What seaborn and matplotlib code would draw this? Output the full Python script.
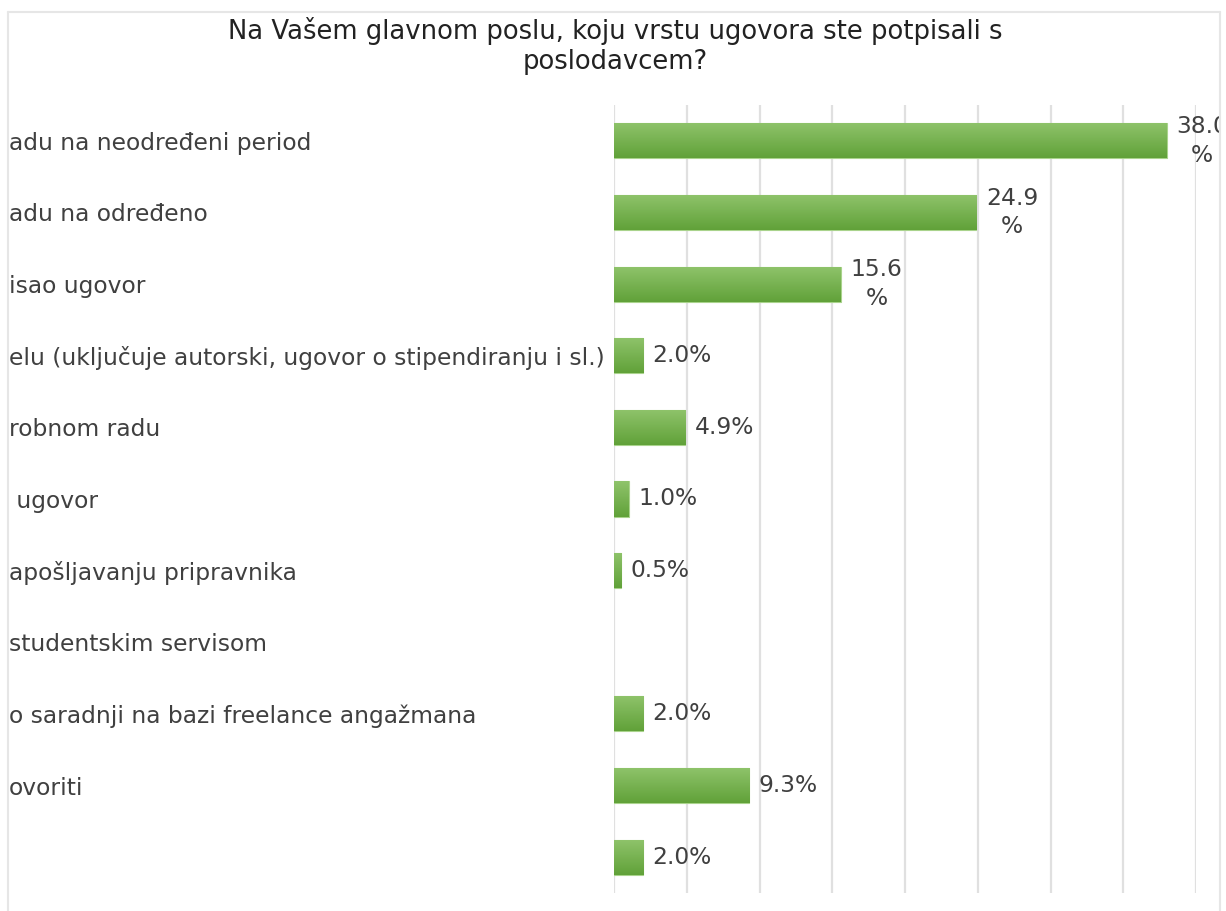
import matplotlib
matplotlib.use("Agg")
import matplotlib.pyplot as plt
import matplotlib.patches as mpatches
import matplotlib.lines as mlines
import numpy as np
import pandas as pd
import seaborn as sns

title = "Na Vašem glavnom poslu, koju vrstu ugovora ste potpisali s\nposlodavcem?"
categories = [
    "adu na neodređeni period",
    "adu na određeno",
    "isao ugovor",
    "elu (uključuje autorski, ugovor o stipendiranju i sl.)",
    "robnom radu",
    " ugovor",
    "apošljavanju pripravnika",
    "studentskim servisom",
    "o saradnji na bazi freelance angažmana",
    "ovoriti",
    " ",
]
values = [38.0, 24.9, 15.6, 2.0, 4.9, 1.0, 0.5, 0.0, 2.0, 9.3, 2.0]
value_labels = ["38.0\n%", "24.9\n%", "15.6\n%", "2.0%", "4.9%", "1.0%", "0.5%", "", "2.0%", "9.3%", "2.0%"]
x_ticks = [0, 5, 10, 15, 20, 25, 30, 35, 40]

df = pd.DataFrame({"cat": categories, "val": values})

sns.set_theme(style="white")
plt.rcParams["font.family"] = ["DejaVu Sans"]

W, H = 1226, 911
fig = plt.figure(figsize=(W / 100, H / 100), dpi=100)
ax = fig.add_axes([614 / W, 1 - 893 / H, (1196 - 614) / W, (893 - 105) / H])

sns.barplot(data=df, y="cat", x="val", orient="h", color="#6fae45", width=0.49, ax=ax,
            edgecolor="#a9d38c", linewidth=0.8, zorder=3)

# gradient fill on bars
grad = np.linspace(0, 1, 64).reshape(-1, 1)
cmap = matplotlib.colors.LinearSegmentedColormap.from_list("g", ["#8fc46b", "#61a139"])
for p in ax.patches:
    x0, y0 = p.get_x(), p.get_y()
    w, h = p.get_width(), p.get_height()
    if w <= 0:
        p.set_edgecolor("none")
        p.set_linewidth(0)
        continue
    im = ax.imshow(grad, cmap=cmap, aspect="auto", extent=[x0, x0 + w, y0 + h, y0],
                   zorder=3.5, interpolation="bilinear")
    im.set_clip_path(p)

ax.set_xlim(0, 40)
ax.set_ylim(10.5, -0.5)
ax.set_xticks(x_ticks)
ax.set_xticklabels([])
ax.xaxis.grid(True, color="#e0e0e0", linewidth=1.6, zorder=0)
ax.yaxis.grid(False)
for s in ax.spines.values():
    s.set_visible(False)
ax.tick_params(axis="both", length=0)
# left-aligned category labels starting at the (cropped) left border
label_x_px = 9
ax.tick_params(axis="y", pad=(614 - label_x_px) * 72 / 100, labelsize=16.8, labelcolor="#404040")
for t in ax.get_yticklabels():
    t.set_horizontalalignment("left")
ax.set_xlabel("")
ax.set_ylabel("")
ax.set_aspect("auto")

# value labels
for i, (v, lab) in enumerate(zip(values, value_labels)):
    if not lab:
        continue
    ax.text(v + 0.65, i, lab, va="center", ha="left",
            fontsize=16.8, color="#404040", linespacing=1.3, zorder=5, clip_on=False,
            multialignment="center")

fig.text(615 / W, 1 - 46 / H, title, ha="center", va="center", fontsize=18.6,
         color="#222222", linespacing=1.2)

# cropped frame: hide text outside the border and draw light border
fig.add_artist(mpatches.Rectangle((0, 0), 8 / W, 1, transform=fig.transFigure,
                                  facecolor="white", edgecolor="none", zorder=20))
fig.add_artist(mpatches.Rectangle((1221 / W, 0), 5 / W, 1, transform=fig.transFigure,
                                  facecolor="white", edgecolor="none", zorder=20))
fig.add_artist(mlines.Line2D([8 / W, 8 / W], [0, 1 - 12 / H], transform=fig.transFigure,
                             color="#e6e6e6", linewidth=1.5, zorder=21))
fig.add_artist(mlines.Line2D([8 / W, 1220 / W], [1 - 12 / H, 1 - 12 / H], transform=fig.transFigure,
                             color="#e6e6e6", linewidth=1.5, zorder=21))
fig.add_artist(mlines.Line2D([1220 / W, 1220 / W], [0, 1 - 12 / H], transform=fig.transFigure,
                             color="#e6e6e6", linewidth=1.5, zorder=21))

fig.savefig("out.png", dpi=100)
